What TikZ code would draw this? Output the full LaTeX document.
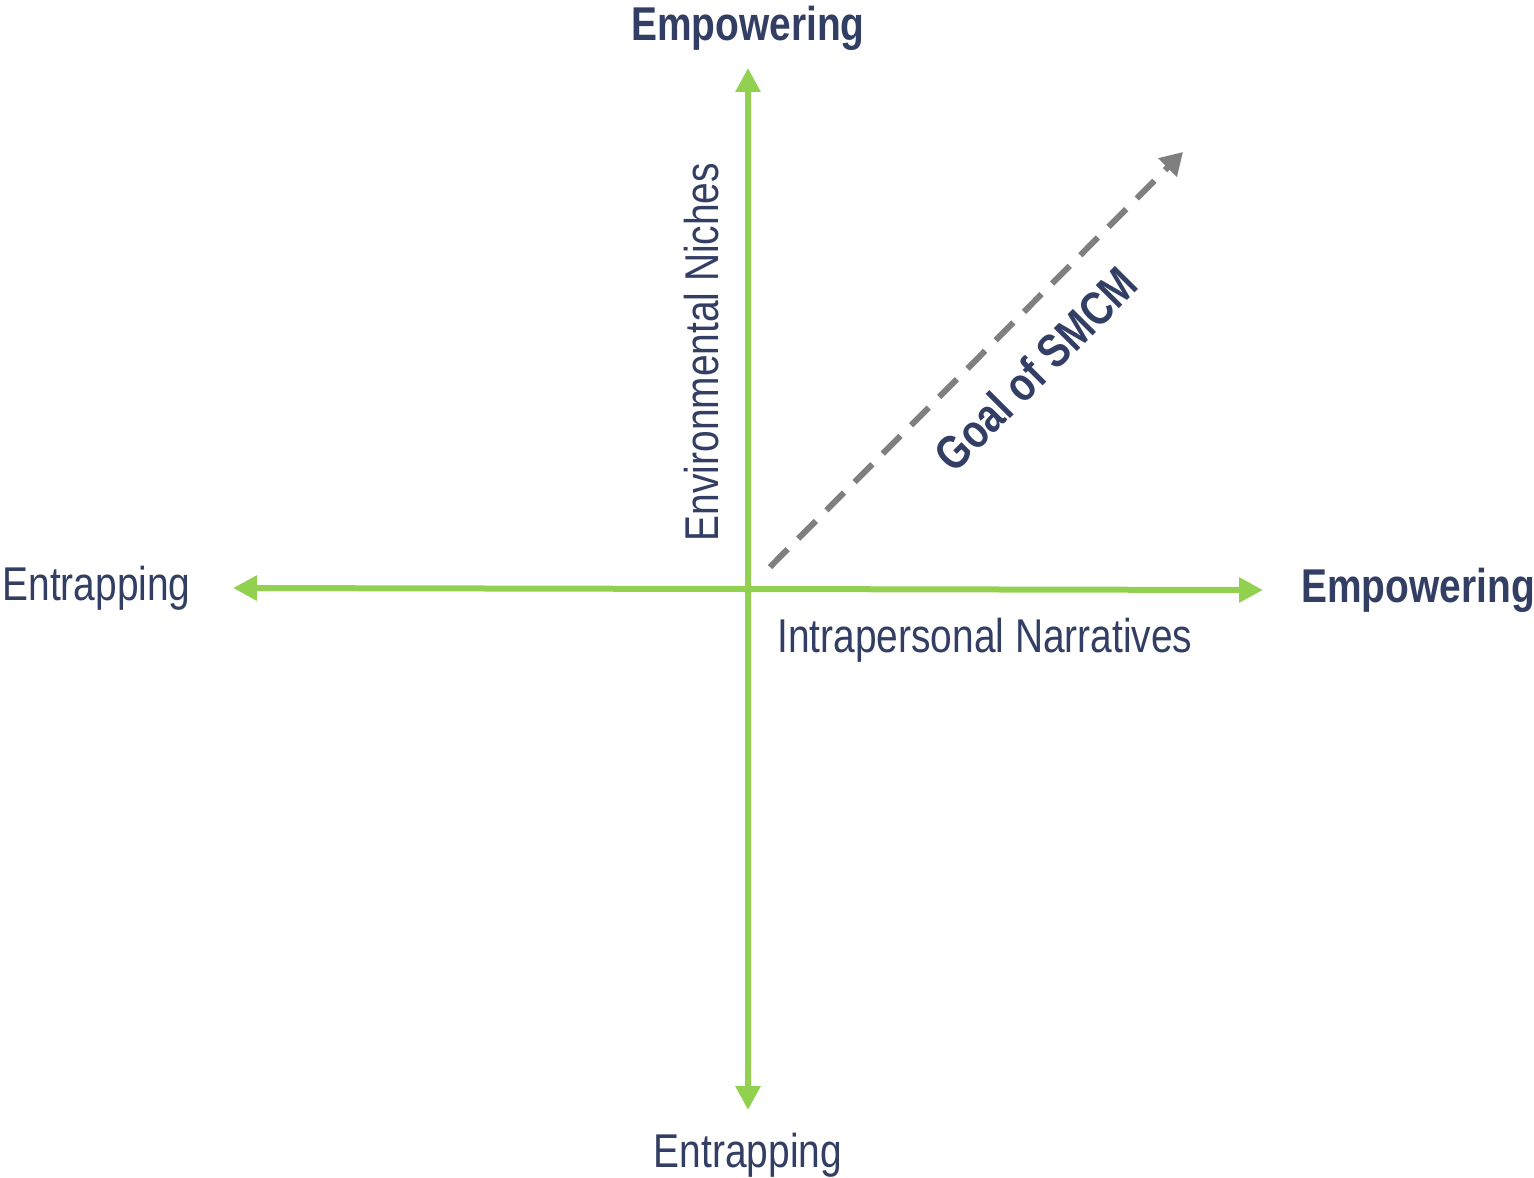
\documentclass[tikz,border=0pt]{standalone}
\usepackage{fontspec}
\setmainfont{Liberation Sans}[FakeStretch=0.82]
\usetikzlibrary{arrows.meta, positioning}
\definecolor{navy}{RGB}{50,62,100}
\definecolor{leaf}{RGB}{146,208,80}
\definecolor{slate}{RGB}{127,127,127}
\tikzstyle{axistext} = [text=navy, font=\fontsize{27}{32}\selectfont, inner sep=0pt]
\tikzstyle{poletext} = [text=navy, font=\fontsize{27}{32}\selectfont\bfseries, inner sep=0pt]
\tikzstyle{axis} = [draw=leaf, line width=0.12cm, {Triangle[length=0.48cm,width=0.48cm]}-{Triangle[length=0.48cm,width=0.48cm]}]
\tikzstyle{goalarrow} = [draw=slate, line width=0.12cm, dash pattern=on 0.5cm off 0.3cm, -{Triangle[length=0.44cm,width=0.5cm]}]

\begin{document}
\begin{tikzpicture}[x=0.02cm, y=-0.02cm, node distance=0.4cm]
    \useasboundingbox (0,0) rectangle (1534,1177);
    \coordinate (origin) at (748,589);
    \coordinate (uptip) at (748,68);
    \coordinate (downtip) at (748,1110);
    \coordinate (lefttip) at (233,588);
    \coordinate (righttip) at (1263,590);
    \coordinate (goalstart) at (770,567);
    \coordinate (goalend) at (1183,152);
    \node (empup) [poletext, above=0.34cm of uptip] {Empowering};
    \node (entdown) [axistext, below=0.46cm of downtip] {Entrapping};
    \node (entleft) [axistext, left=0.84cm of lefttip] {Entrapping};
    \node (empright) [poletext, right=0.76cm of righttip] {Empowering};
    \node (niches) [axistext, rotate=90, anchor=base] at (718,352) {Environmental Niches};
    \node (narratives) [axistext, below right=0.58cm and 0.58cm of origin] {Intrapersonal Narratives};
    \draw [axis] (lefttip) -- (righttip);
    \draw [axis] (downtip) -- (uptip);
    \draw [goalarrow] (goalstart) -- node[poletext, sloped, below=16pt, pos=0.56] (goal) {Goal of SMCM} (goalend);
\end{tikzpicture}
\end{document}
